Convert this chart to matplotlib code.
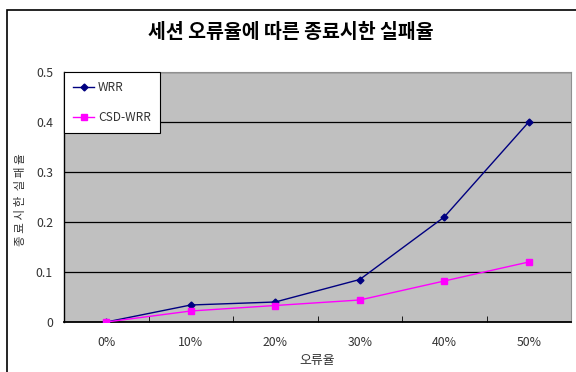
import matplotlib.pyplot as plt
from matplotlib.patches import Rectangle

plt.rcParams['font.family'] = ['Noto Sans CJK KR', 'DejaVu Sans']

error_rates = ['0%', '10%', '20%', '30%', '40%', '50%']
wrr = [0.0, 0.034, 0.040, 0.085, 0.210, 0.400]
csd_wrr = [0.0, 0.022, 0.033, 0.044, 0.082, 0.120]
yticks = [0, 0.1, 0.2, 0.3, 0.4, 0.5]
ytick_labels = ['0', '0.1', '0.2', '0.3', '0.4', '0.5']

fig = plt.figure(figsize=(5.76, 3.72), dpi=100)
ax = fig.add_axes([64 / 576, 50 / 372, 507 / 576, 250 / 372])

# outer chart frame (runs off the right and bottom edges)
fig.patches.append(Rectangle((7 / 576, -0.1), 1.2, (362 / 372) + 0.1,
                             transform=fig.transFigure, fill=False,
                             edgecolor='black', linewidth=1.2, zorder=0))

ax.set_facecolor('#c0c0c0')
x = range(len(error_rates))
ax.plot(x, wrr, color='#000080', linewidth=1, marker='D', markersize=3.5,
        label='WRR', zorder=3)
ax.plot(x, csd_wrr, color='#ff00ff', linewidth=1, marker='s', markersize=5,
        label='CSD-WRR', zorder=3)

ax.set_xlim(-0.5, len(error_rates) - 0.5)
ax.set_ylim(0, 0.5)
ax.set_yticks(yticks)
ax.set_yticklabels(ytick_labels)
ax.set_xticks(list(x))
ax.set_xticklabels(error_rates)
ax.set_xticks([i + 0.5 for i in range(len(error_rates) - 1)], minor=True)
ax.tick_params(axis='x', which='major', length=0, pad=10, labelsize=8.8, colors='#333333')
ax.tick_params(axis='x', which='minor', direction='in', length=4, color='black')
ax.tick_params(axis='y', length=0, pad=8, labelsize=8.8, colors='#333333')

ax.yaxis.grid(True, color='black', linewidth=0.9)
ax.set_axisbelow(True)
ax.spines['left'].set_color('black')
ax.spines['bottom'].set_color('black')
ax.spines['bottom'].set_linewidth(1.3)
ax.spines['left'].set_linewidth(1.0)
ax.spines['top'].set_color('#909090')
ax.spines['right'].set_color('#909090')

ax.set_xlabel('오류율', fontsize=9.3, color='#333333', labelpad=4)
fig.text(21 / 576, 1 - 200 / 372, '종 료 시 한  실 패 율', rotation=90,
         ha='center', va='center', fontsize=8.3, color='#333333')

fig.text(291 / 576, 1 - 32 / 372, '세션 오류율에 따른 종료시한 실패율',
         ha='center', va='center', fontsize=14, fontweight='bold')

leg = ax.legend(loc='upper left', borderaxespad=0, fancybox=False,
                framealpha=1, edgecolor='black', fontsize=8.6,
                handlelength=1.8, labelspacing=1.45, borderpad=0.75,
                handletextpad=0.3)
leg.get_frame().set_linewidth(0.8)
for t in leg.get_texts():
    t.set_color('#333333')

fig.savefig('out.png', dpi=100)
